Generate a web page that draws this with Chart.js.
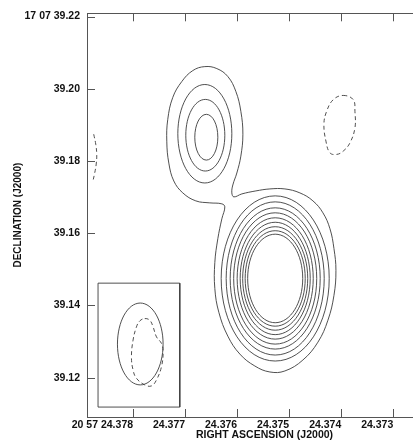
<!DOCTYPE html>
<html>
<head>
<meta charset="utf-8">
<script src="https://cdn.jsdelivr.net/npm/chart.js@4/dist/chart.umd.min.js"></script>
<style>
  html, body { margin: 0; padding: 0; background: #fff; overflow: hidden; }
  #wrap { width: 442px; height: 442px; }
</style>
</head>
<body>
<div id="wrap"><canvas id="map" width="442" height="442"></canvas></div>
<script>
// axis ranges and ticks (RA in seconds, Dec in arcsec)
const RA_RANGE = [24.372064, 24.378885];
const DEC_RANGE = [39.1091, 39.2209];
const X_TICKS = [24.378, 24.377, 24.376, 24.375, 24.374, 24.373];
const X_LABELS = ['20 57 24.378', '24.377', '24.376', '24.375', '24.374', '24.373'];
const Y_TICKS = [39.12, 39.14, 39.16, 39.18, 39.20, 39.22];
const Y_LABELS = ['39.12', '39.14', '39.16', '39.18', '39.20', '17 07 39.22'];

// lowest positive contour, wraps both components
const OUTER_CONTOUR = [
  [24.376621, 39.20614], [24.376390, 39.20559], [24.376179, 39.20339], [24.376025, 39.19926],
  [24.375929, 39.19375], [24.375890, 39.18741], [24.375929, 39.18135], [24.376006, 39.17667],
  [24.376083, 39.17336], [24.376102, 39.17116], [24.376063, 39.17006], [24.375910, 39.17088],
  [24.375640, 39.17171], [24.375371, 39.17226], [24.375083, 39.17226], [24.374794, 39.17116],
  [24.374544, 39.16895], [24.374352, 39.16565], [24.374217, 39.16124], [24.374140, 39.15573],
  [24.374102, 39.14967], [24.374140, 39.14278], [24.374256, 39.13590], [24.374448, 39.12983],
  [24.374737, 39.12488], [24.375083, 39.12185], [24.375371, 39.12157], [24.375660, 39.12322],
  [24.375948, 39.12653], [24.376179, 39.13149], [24.376352, 39.13810], [24.376429, 39.14471],
  [24.376429, 39.15187], [24.376371, 39.15848], [24.376294, 39.16399], [24.376237, 39.16730],
  [24.376294, 39.16813], [24.376525, 39.16840], [24.376794, 39.16895], [24.377044, 39.17116],
  [24.377217, 39.17446], [24.377313, 39.17942], [24.377352, 39.18548], [24.377333, 39.19154],
  [24.377237, 39.19760], [24.377063, 39.20201], [24.376852, 39.20504]
];

// northern component: left, top, right, bottom extremes of each ring
const NORTH_RINGS = [
  [[24.377140, 39.18755], [24.376621, 39.20118], [24.376102, 39.18755], [24.376621, 39.17391]],
  [[24.376987, 39.18713], [24.376612, 39.19705], [24.376237, 39.18713], [24.376612, 39.17722]],
  [[24.376814, 39.18658], [24.376592, 39.19292], [24.376371, 39.18658], [24.376592, 39.18025]]
];

// southern component
const SOUTH_RINGS = [
  [[24.376307, 39.14747], [24.375269, 39.17034], [24.374231, 39.14747], [24.375269, 39.12460]],
  [[24.376211, 39.14747], [24.375269, 39.16868], [24.374327, 39.14747], [24.375269, 39.12626]],
  [[24.376134, 39.14747], [24.375269, 39.16703], [24.374404, 39.14747], [24.375269, 39.12791]],
  [[24.376067, 39.14747], [24.375269, 39.16565], [24.374471, 39.14747], [24.375269, 39.12929]],
  [[24.376000, 39.14747], [24.375269, 39.16427], [24.374538, 39.14747], [24.375269, 39.13067]],
  [[24.375942, 39.14747], [24.375269, 39.16303], [24.374596, 39.14747], [24.375269, 39.13191]],
  [[24.375894, 39.14747], [24.375269, 39.16180], [24.374644, 39.14747], [24.375269, 39.13314]],
  [[24.375846, 39.14747], [24.375269, 39.16069], [24.374692, 39.14747], [24.375269, 39.13425]],
  [[24.375798, 39.14747], [24.375269, 39.15973], [24.374740, 39.14747], [24.375269, 39.13521]]
];

// negative contours (dashed)
const NEG_WEST = [
  [24.373962, 39.19815], [24.373769, 39.19697], [24.373737, 39.19375], [24.373737, 39.18915],
  [24.373833, 39.18501], [24.373962, 39.18273], [24.374088, 39.18182], [24.374217, 39.18226],
  [24.374294, 39.18548], [24.374333, 39.19017], [24.374281, 39.19375], [24.374154, 39.19697]
];
const NEG_EDGE = [
  [24.378756, 39.18741], [24.378717, 39.18466], [24.378698, 39.18190],
  [24.378708, 39.17915], [24.378737, 39.17667], [24.378775, 39.17419]
];

// beam inset
const BEAM_BOX = [
  [24.378673, 39.14617], [24.377102, 39.14617], [24.377102, 39.11185],
  [24.378673, 39.11185], [24.378673, 39.14617]
];
const BEAM = [[24.378300, 39.12928], [24.377862, 39.14066], [24.377423, 39.12928], [24.377862, 39.11799]];
const BEAM_NEG = [
  [24.377775, 39.13636], [24.377679, 39.13590], [24.377615, 39.13405], [24.377550, 39.13129],
  [24.377454, 39.12948], [24.377423, 39.12716], [24.377454, 39.12303], [24.377550, 39.11937],
  [24.377646, 39.11771], [24.377775, 39.11799], [24.377935, 39.11983], [24.378000, 39.12212],
  [24.378031, 39.12579], [24.378000, 39.13039], [24.377935, 39.13405], [24.377871, 39.13570]
];

const INK = '#3c3c3c';
const HIDE = 'rgba(0,0,0,0)';
const DASH = [4, 3];
const ELLIPSE = 0.5523; // bezier tension that turns 4 extremes into an ellipse

function toXY(pts) { return pts.map(p => ({x: p[0], y: p[1]})); }

// closed contour: pad one point on each side so the spline is smooth at the seam,
// then hide the two padding segments
function loop(pts, tension, dash) {
  const n = pts.length;
  const data = toXY([pts[n - 1], ...pts, pts[0], pts[1]]);
  const last = data.length - 1;
  return {
    data, showLine: true, pointRadius: 0, borderWidth: 0.9, borderColor: INK,
    tension, borderDash: dash || [],
    segment: { borderColor: c => (c.p0DataIndex === 0 || c.p1DataIndex === last) ? HIDE : INK }
  };
}
function open(pts, tension, dash) {
  return { data: toXY(pts), showLine: true, pointRadius: 0, borderWidth: 0.9,
           borderColor: INK, tension, borderDash: dash || [] };
}

const datasets = [
  loop(OUTER_CONTOUR, 0.4),
  ...NORTH_RINGS.map(r => loop(r, ELLIPSE)),
  ...SOUTH_RINGS.map(r => loop(r, ELLIPSE)),
  loop(NEG_WEST, 0.4, DASH),
  open(NEG_EDGE, 0.4, DASH),
  open(BEAM_BOX, 0),
  loop(BEAM, ELLIPSE),
  loop(BEAM_NEG, 0.4, DASH)
];

// frame and inward tick marks on all four sides
const frame = {
  id: 'frame',
  afterDatasetsDraw(chart) {
    const {ctx, chartArea: a, scales: {x, y}} = chart;
    const L = 8;
    ctx.save();
    ctx.strokeStyle = '#555';
    ctx.lineWidth = 1;
    ctx.strokeRect(Math.round(a.left) + 0.5, Math.round(a.top) + 0.5,
                   Math.round(a.right - a.left), Math.round(a.bottom - a.top));
    ctx.beginPath();
    X_TICKS.forEach(v => {
      const px = Math.round(x.getPixelForValue(v)) + 0.5;
      ctx.moveTo(px, a.bottom); ctx.lineTo(px, a.bottom - L);
      ctx.moveTo(px, a.top); ctx.lineTo(px, a.top + L);
    });
    Y_TICKS.forEach(v => {
      const py = Math.round(y.getPixelForValue(v)) + 0.5;
      ctx.moveTo(a.left, py); ctx.lineTo(a.left + L, py);
      ctx.moveTo(a.right, py); ctx.lineTo(a.right - L, py);
    });
    ctx.stroke();
    ctx.restore();
  }
};

const FAMILY = 'Liberation Sans, Arial, sans-serif';
const tickFont = {family: FAMILY, size: 10.5, weight: 'bold'};

new Chart(document.getElementById('map'), {
  type: 'scatter',
  data: { datasets },
  plugins: [frame],
  options: {
    responsive: false,
    animation: false,
    events: [],
    layout: { padding: { top: 12, right: 0, left: 0, bottom: 0 } },
    plugins: { legend: { display: false }, tooltip: { enabled: false } },
    scales: {
      x: {
        type: 'linear', reverse: true, min: RA_RANGE[0], max: RA_RANGE[1],
        grid: { display: false, drawTicks: false }, border: { display: false },
        afterBuildTicks: s => { s.ticks = X_TICKS.map(v => ({value: v})); },
        ticks: { callback: (v, i) => X_LABELS[i], autoSkip: false, maxRotation: 0,
                 align: 'end', padding: 2, color: '#111', font: tickFont },
        title: { display: true, text: 'RIGHT ASCENSION (J2000)', color: '#111',
                 font: {family: FAMILY, size: 10.5, weight: 'bold'},
                 padding: { top: 0, bottom: 1 } },
        afterFit: s => { s.height = 25; }
      },
      y: {
        type: 'linear', min: DEC_RANGE[0], max: DEC_RANGE[1],
        grid: { display: false, drawTicks: false }, border: { display: false },
        afterBuildTicks: s => { s.ticks = Y_TICKS.map(v => ({value: v})); },
        ticks: { callback: (v, i) => Y_LABELS[i], autoSkip: false, padding: 7,
                 color: '#111', font: tickFont },
        title: { display: true, text: 'DECLINATION (J2000)', color: '#111',
                 font: {family: FAMILY, size: 10, weight: 'bold'},
                 padding: { top: 12, bottom: 0 } },
        afterFit: s => { s.width = 87; }
      }
    }
  }
});
</script>
</body>
</html>
